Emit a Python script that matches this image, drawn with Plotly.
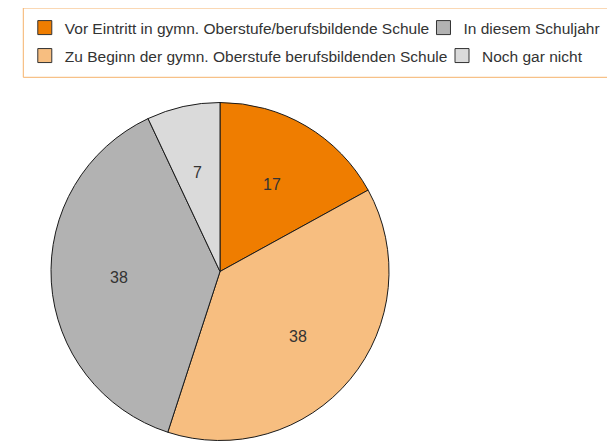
import math
import plotly.graph_objects as go

labels = [
    "Vor Eintritt in gymn. Oberstufe/berufsbildende Schule",
    "Zu Beginn der gymn. Oberstufe berufsbildenden Schule",
    "In diesem Schuljahr",
    "Noch gar nicht",
]
values = [17, 38, 38, 7]
colors = ["#EF7D00", "#F7BE80", "#B2B2B2", "#DADADA"]

W, H = 615, 442
# the page body adds an 8px margin, so positions are given in figure pixels
cx, cy, R = 212, 263.5, 169

fig = go.Figure()

fig.add_trace(go.Pie(
    labels=labels,
    values=values,
    sort=False,
    direction="clockwise",
    rotation=0,
    marker=dict(colors=colors, line=dict(color="#1a1a1a", width=1)),
    textinfo="none",
    showlegend=False,
    hoverinfo="label+value",
    domain=dict(x=[(cx - R) / W, (cx + R) / W], y=[1 - (cy + R) / H, 1 - (cy - R) / H]),
))

# value labels at 60% of the radius, on each slice's mid angle
total = sum(values)
cum = 0
for v in values:
    mid = (cum + v / 2) / total * 2 * math.pi
    cum += v
    fig.add_annotation(
        x=(cx + 0.6 * R * math.sin(mid)) / W,
        y=1 - (cy - 0.6 * R * math.cos(mid)) / H,
        xref="paper", yref="paper", xanchor="center", yanchor="middle",
        text=str(v), showarrow=False,
        font=dict(size=16, color="#333333"),
    )

# one legend per entry, so the two rows flow like the original
legend_pos = [(0.0273, 0.9932), (0.0273, 0.9299), (0.6756, 0.9932), (0.7057, 0.9299)]
for i, (lx, ly) in enumerate(legend_pos):
    key = "legend" if i == 0 else f"legend{i + 1}"
    fig.add_trace(go.Scatter(
        x=[None], y=[None], mode="markers", name=labels[i], legend=key,
        marker=dict(symbol="square", size=14, color=colors[i],
                    line=dict(color="#333333", width=1)),
    ))
    fig.update_layout({key: dict(x=lx, y=ly, xanchor="left", yanchor="top",
                                 bgcolor="rgba(0,0,0,0)", borderwidth=0, itemwidth=30,
                                 font=dict(size=15.5, color="#333333"))})

fig.add_shape(type="rect", xref="paper", yref="paper",
              x0=15.3 / W, x1=599.7 / W, y0=1 - 69.3 / H, y1=1.0,
              line=dict(color="#F5B26B", width=1), fillcolor="rgba(0,0,0,0)")

fig.update_layout(
    width=W, height=H,
    margin=dict(l=0, r=0, t=0, b=0),
    paper_bgcolor="white", plot_bgcolor="white",
    font=dict(family="Liberation Sans, Arial, sans-serif", size=15.5, color="#333333"),
    xaxis=dict(visible=False), yaxis=dict(visible=False),
)

fig.write_html("out.html")
